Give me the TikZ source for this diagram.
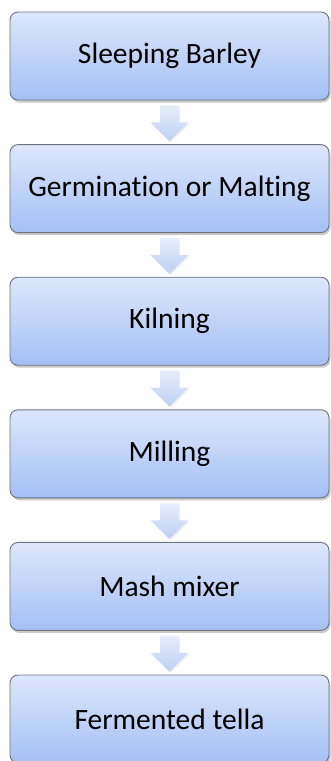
\documentclass[tikz,border=0pt]{standalone}
\usepackage{fontspec}
\setmainfont{Carlito}[Ligatures=CommonOff]
\usetikzlibrary{shadows,calc}
\definecolor{boxtop}{HTML}{DDE7FB}
\definecolor{boxbot}{HTML}{A3C0F5}
\definecolor{boxline}{HTML}{6E737C}
\definecolor{arrtop}{HTML}{E6EDFB}
\definecolor{arrbot}{HTML}{BDD0F5}
\tikzset{
  stepbox/.style={draw=boxline, line width=0.9pt, rounded corners=8pt,
    minimum width=319pt, minimum height=88pt, inner sep=0pt,
    top color=boxtop, bottom color=boxbot,
    font=\fontsize{29.5}{34}\selectfont,
    drop shadow={shadow xshift=1.5pt, shadow yshift=-2.5pt, opacity=0.35, fill=black!60}},
  blockarrow/.style={top color=arrtop, bottom color=arrbot, draw=none,
    drop shadow={shadow xshift=1pt, shadow yshift=-1.5pt, opacity=0.15, fill=black!40}}
}
\begin{document}
\begin{tikzpicture}[x=1pt,y=-1pt]
\useasboundingbox (0,0) rectangle (331,761);
\foreach \i/\t in {1/Sleeping Barley,2/Germination or Malting,3/Kilning,4/Milling,5/Mash mixer,6/Fermented tella}{
  \node[stepbox] (b\i) at (169.5,{56+132.6*(\i-1)}) {\t};
}
\foreach \a/\b in {1/2,2/3,3/4,4/5,5/6}{
  \path[blockarrow]
    ($(b\a.south)+(-9.5,5)$) -- ++(19,0) -- ++(0,17) -- ++(9.5,0)
    -- ($(b\b.north)+(0,-3)$) -- ($(b\a.south)+(-19,22)$) -- ++(9.5,0) -- cycle;
}
\end{tikzpicture}
\end{document}
